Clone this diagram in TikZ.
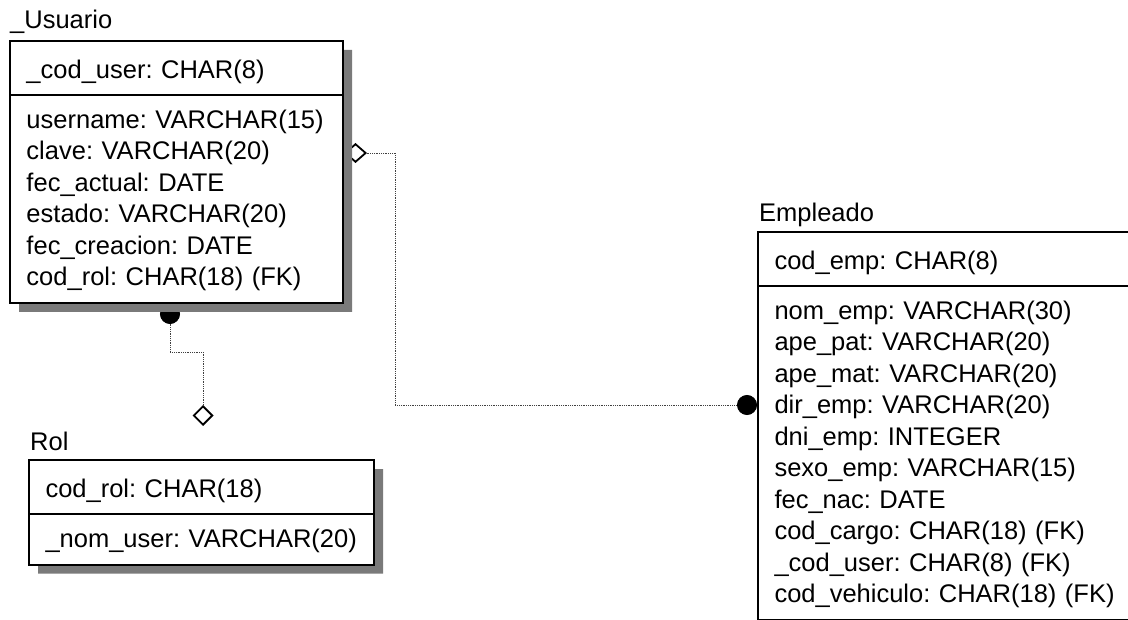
\documentclass[tikz,border=0pt]{standalone}
\usepackage{fontspec}
\setmainfont{Liberation Sans}
\usetikzlibrary{arrows.meta,positioning,shapes.multipart,shadows,backgrounds,calc}
\definecolor{shade}{HTML}{7A7A7A}
\definecolor{link}{HTML}{404040}
\newcommand{\rowstrut}{\rule[-7.5pt]{0pt}{31.5pt}}
\newcommand{\headstrut}{\rule[-7pt]{0pt}{35pt}}
\frenchspacing

\begin{document}
\begin{tikzpicture}[x=1pt,y=-1pt,
  every node/.style={font=\fontsize{25.5}{31.5}\selectfont},
  entity/.style={rectangle split,rectangle split parts=2,draw,line width=2pt,fill=white,
    anchor=north west,align=left,inner xsep=16.5pt,inner ysep=8.5pt,
    drop shadow={shadow xshift=9pt,shadow yshift=-9pt,fill=shade,opacity=1}},
  title/.style={anchor=base west,inner sep=0pt},
  rel/.style={densely dotted,line width=0.8pt,link}]
  \useasboundingbox (0,0) rectangle (1128,620);
  \node[entity,text width=300pt] (usuario) at (9,40)
    {\headstrut\_cod\_user: CHAR(8)
     \nodepart{second}\rowstrut username: VARCHAR(15)\\
     \rowstrut clave: VARCHAR(20)\\
     \rowstrut fec\_actual: DATE\\
     \rowstrut estado: VARCHAR(20)\\
     \rowstrut fec\_creacion: DATE\\
     \rowstrut cod\_rol: CHAR(18) (FK)};
  \node[entity,text width=312pt] (rol) at (28,459)
    {\headstrut cod\_rol: CHAR(18)
     \nodepart{second}\rowstrut\_nom\_user: VARCHAR(20)};
  \node[entity,text width=370pt] (empleado) at (757,231)
    {\headstrut cod\_emp: CHAR(8)
     \nodepart{second}\rowstrut nom\_emp: VARCHAR(30)\\
     \rowstrut ape\_pat: VARCHAR(20)\\
     \rowstrut ape\_mat: VARCHAR(20)\\
     \rowstrut dir\_emp: VARCHAR(20)\\
     \rowstrut dni\_emp: INTEGER\\
     \rowstrut sexo\_emp: VARCHAR(15)\\
     \rowstrut fec\_nac: DATE\\
     \rowstrut cod\_cargo: CHAR(18) (FK)\\
     \rowstrut\_cod\_user: CHAR(8) (FK)\\
     \rowstrut cod\_vehiculo: CHAR(18) (FK)};
  \node[title] (usuarioT) at ([shift={(1,-11)}]usuario.north west) {\_Usuario};
  \node[title] (rolT) at ([shift={(2,-9)}]rol.north west) {Rol};
  \node[title] (empleadoT) at ([shift={(2,-9)}]empleado.north west) {Empleado};
  \begin{scope}[on background layer]
    \coordinate (rolEnd) at ([xshift=175pt,yshift=33pt]rol.north west);
    \draw[rel,{Circle[length=20pt,color=black]}-{Diamond[open,length=21pt,width=21pt,line width=1.8pt,color=black]}]
      ([xshift=161pt]usuario.south west) -- ++(0,48) -| (rolEnd);
    \draw[rel,{Diamond[open,length=23pt,width=20pt,line width=1.8pt,color=black]}-{Circle[length=20pt,color=black]}]
      ([yshift=-113pt]usuario.north east) -- ++(51,0) |- ([yshift=-174pt]empleado.north west);
  \end{scope}
\end{tikzpicture}
\end{document}
